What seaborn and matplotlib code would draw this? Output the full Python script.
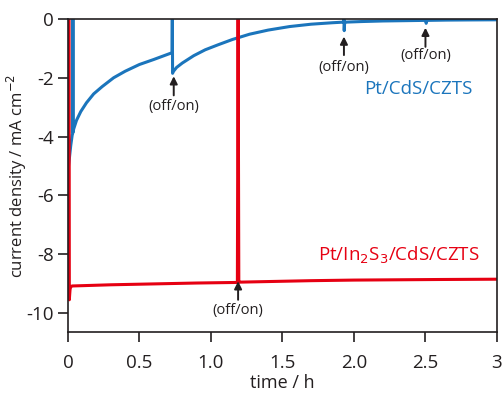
import numpy as np
import pandas as pd
import matplotlib
matplotlib.use("Agg")
import matplotlib.pyplot as plt
import seaborn as sns

# Pt/CdS/CZTS (blue) photocurrent trace
t_cds = [0.003, 0.010, 0.020, 0.030, 0.033, 0.035, 0.037, 0.040, 0.06, 0.09, 0.13,
         0.18, 0.24, 0.32, 0.40, 0.50, 0.60, 0.70, 0.728, 0.730, 0.732, 0.735, 0.76,
         0.80, 0.88, 0.96, 1.05, 1.15, 1.27, 1.40, 1.55, 1.70, 1.85, 1.925, 1.93,
         1.932, 1.935, 1.94, 2.05, 2.20, 2.35, 2.495, 2.50, 2.505, 2.51, 2.65, 2.80, 3.0]
j_cds = [-5.05, -4.75, -4.3, -3.95, -3.9, 0.0, -3.85, -3.75, -3.45, -3.15, -2.85,
         -2.55, -2.3, -2.0, -1.78, -1.55, -1.38, -1.2, -1.15, 0.0, -1.85, -1.8, -1.65,
         -1.5, -1.25, -1.05, -0.88, -0.70, -0.52, -0.38, -0.26, -0.18, -0.13, -0.11, 0.0,
         -0.40, -0.12, -0.11, -0.09, -0.07, -0.06, -0.05, 0.0, -0.15, -0.05, -0.04, -0.035, -0.03]

# Pt/In2S3/CdS/CZTS (red) trace
t_in = [0.008, 0.010, 0.012, 0.015, 0.020, 0.030, 0.10, 0.30, 0.60, 0.90, 1.185, 1.19,
        1.195, 1.20, 1.40, 1.70, 2.00, 2.30, 2.60, 3.0]
j_in = [0.0, -9.55, -9.4, -9.2, -9.1, -9.08, -9.07, -9.04, -9.01, -8.98, -8.96, 0.0,
        -8.96, -8.95, -8.93, -8.90, -8.88, -8.87, -8.86, -8.85]

# (off/on) markers: x, arrow tip y, arrow tail y, label y
marks_x = [0.74, 1.19, 1.93, 2.50]
tip_y = [-1.95, -8.92, -0.6, -0.3]
tail_y = [-2.6, -9.55, -1.23, -0.95]
text_y = [-2.97, -9.92, -1.64, -1.23]

blue = "#1b75bc"
red = "#e60012"
ink = "#231f20"

sns.set_theme(style="ticks")
plt.rcParams["font.family"] = ["Open Sans", "DejaVu Sans"]

df = pd.concat([
    pd.DataFrame({"t": t_cds, "j": j_cds, "s": "Pt/CdS/CZTS"}),
    pd.DataFrame({"t": t_in, "j": j_in, "s": "Pt/In2S3/CdS/CZTS"}),
])

fig = plt.figure(figsize=(5.03, 3.94), dpi=100)
ax = fig.add_axes([0.135, 0.157, 0.853, 0.795])

sns.lineplot(data=df, x="t", y="j", hue="s", palette=[blue, red], sort=False,
             estimator=None, linewidth=2.2, legend=False, ax=ax)

for x, a, b, ty in zip(marks_x, tip_y, tail_y, text_y):
    ax.annotate("", xy=(x, a), xytext=(x, b),
                arrowprops=dict(arrowstyle="-|>", color=ink, lw=1.4, mutation_scale=11,
                                shrinkA=0, shrinkB=0))
    ax.text(x, ty, "(off/on)", ha="center", va="center", fontsize=10.5, color=ink)

ax.text(2.83, -2.39, "Pt/CdS/CZTS", color=blue, fontsize=13.5, ha="right", va="center")
ax.text(2.88, -8.05, "Pt/In$_2$S$_3$/CdS/CZTS", color=red, fontsize=13.5, ha="right", va="center")

ax.set_xlim(0, 3)
ax.set_ylim(-10.65, 0)
ax.set_xticks([0, 0.5, 1.0, 1.5, 2.0, 2.5, 3])
ax.set_xticklabels(["0", "0.5", "1.0", "1.5", "2.0", "2.5", "3"])
ax.set_yticks([0, -2, -4, -6, -8, -10])
ax.set_yticklabels(["0", "-2", "-4", "-6", "-8", "-10"])
ax.tick_params(axis="both", direction="out", length=7, width=1.2, labelsize=13.5,
               colors=ink)
ax.tick_params(axis="x", pad=9)
ax.tick_params(axis="y", pad=3)
ax.tick_params(top=False, right=False)
for sp in ax.spines.values():
    sp.set_color(ink)
    sp.set_linewidth(1.2)
ax.set_xlabel("time / h", fontsize=13, color=ink, labelpad=1)
ax.set_ylabel("current density / mA cm$^{-2}$", fontsize=12, color=ink, labelpad=-2)

fig.savefig("out.png", dpi=100)
